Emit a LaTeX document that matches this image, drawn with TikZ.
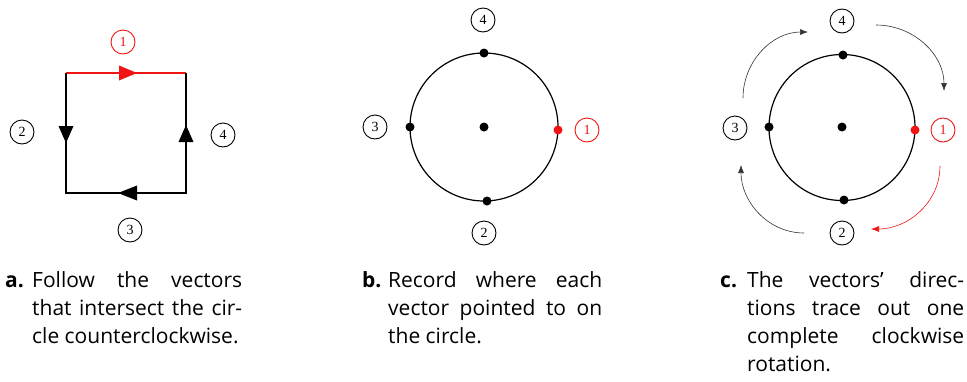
\documentclass[tikz,border=0pt]{standalone}
\usepackage{fontspec}
\setmainfont{Open Sans}
\newfontfamily\numfont{Liberation Serif}
\usetikzlibrary{arrows.meta}
\definecolor{myred}{RGB}{240,20,20}
\tikzset{
  lbl/.style={circle,draw,line width=0.9pt,minimum size=24pt,inner sep=0pt,font=\numfont\fontsize{14}{16}\selectfont},
  redlbl/.style={lbl,draw=myred,text=myred},
  dot/.style={circle,fill,inner sep=0pt,minimum size=9pt},
  reddot/.style={dot,fill=myred},
  ring/.style={line width=1.2pt},
  edge/.style={line width=1.2pt},
  turn/.style={line width=0.6pt,draw=black!80,-{Latex[length=8pt,width=6pt]}},
  redturn/.style={line width=0.6pt,draw=myred,-{Latex[length=8pt,width=6pt,fill=myred]}},
  captext/.style={anchor=base west,inner sep=0pt,font=\fontsize{21}{28}\selectfont}
}
\begin{document}
\begin{tikzpicture}[x=1pt,y=-1pt]
\useasboundingbox (0,0) rectangle (967,381);
% ---------- panel a ----------
\coordinate (tl) at (66,73);
\coordinate (tr) at (186,73);
\coordinate (bl) at (66,193);
\coordinate (br) at (186,193);
\draw[edge,myred] (tl) -- (tr);
\draw[edge] (tl) -- (bl) -- (br) -- (tr);
\fill[myred] (119,65.5) -- (137,73) -- (119,80.5) -- cycle;
\fill (58.5,126) -- (66,143) -- (73.5,126) -- cycle;
\fill (178.5,142) -- (186,125) -- (193.5,142) -- cycle;
\fill (137,185.5) -- (118,193) -- (137,200.5) -- cycle;
\node[redlbl] (a1) at (123,42) {1};
\node[lbl] (a2) at (22,132) {2};
\node[lbl] (a4) at (223,135) {4};
\node[lbl] (a3) at (130,230) {3};
% ---------- panel b ----------
\coordinate (bc) at (484,127);
\draw[ring] (bc) circle[radius=74];
\node[dot] (bcen) at (484,127) {};
\node[dot] (btop) at (484,53) {};
\node[dot] (bleft) at (410,127) {};
\node[reddot] (bright) at (558,130) {};
\node[dot] (bbot) at (487,201) {};
\node[lbl] (b4) at (483,20) {4};
\node[lbl] (b3) at (375,127) {3};
\node[redlbl] (b1) at (587,130) {1};
\node[lbl] (b2) at (484,233) {2};
% ---------- panel c ----------
\coordinate (cc) at (842,127.5);
\draw[ring] (cc) circle[radius=73];
\node[dot] (ccen) at (842,127) {};
\node[dot] (ctop) at (843,55) {};
\node[dot] (cleft) at (769,127) {};
\node[reddot] (cright) at (915,130) {};
\node[dot] (cbot) at (844,200) {};
\node[lbl] (c4) at (842,21) {4};
\node[lbl] (c3) at (735,128) {3};
\node[redlbl] (c1) at (943,130) {1};
\node[lbl] (c2) at (842,233) {2};
\coordinate (s1) at (743,98);  \coordinate (e1) at (808,32);
\coordinate (s2) at (876,25);  \coordinate (e2) at (944,91);
\coordinate (s3) at (940,166); \coordinate (e3) at (871,229);
\coordinate (s4) at (804,233); \coordinate (e4) at (741,165);
\draw[turn] (s1) to[out=90,in=180] (e1);
\draw[turn] (s2) to[out=0,in=90] (e2);
\draw[redturn] (s3) to[out=-90,in=0] (e3);
\draw[turn] (s4) to[out=180,in=-90] (e4);
% ---------- captions ----------
\node[captext] (capa) at (5,287) {\parbox[t]{237pt}{\noindent\hangindent=27pt\hangafter=1\makebox[27pt][l]{\textbf{a.}}Follow the vectors\linebreak that intersect the cir-\linebreak cle counterclockwise.}};
\node[captext] (capb) at (362,287) {\parbox[t]{240pt}{\noindent\hangindent=26pt\hangafter=1\makebox[26pt][l]{\textbf{b.}}Record where each\linebreak vector pointed to on\linebreak the circle.}};
\node[captext] (capc) at (720,287) {\parbox[t]{244pt}{\noindent\hangindent=27pt\hangafter=1\makebox[27pt][l]{\textbf{c.}}The vectors’ direc-\linebreak tions trace out one\linebreak complete clockwise\linebreak rotation.}};
\end{tikzpicture}
\end{document}
